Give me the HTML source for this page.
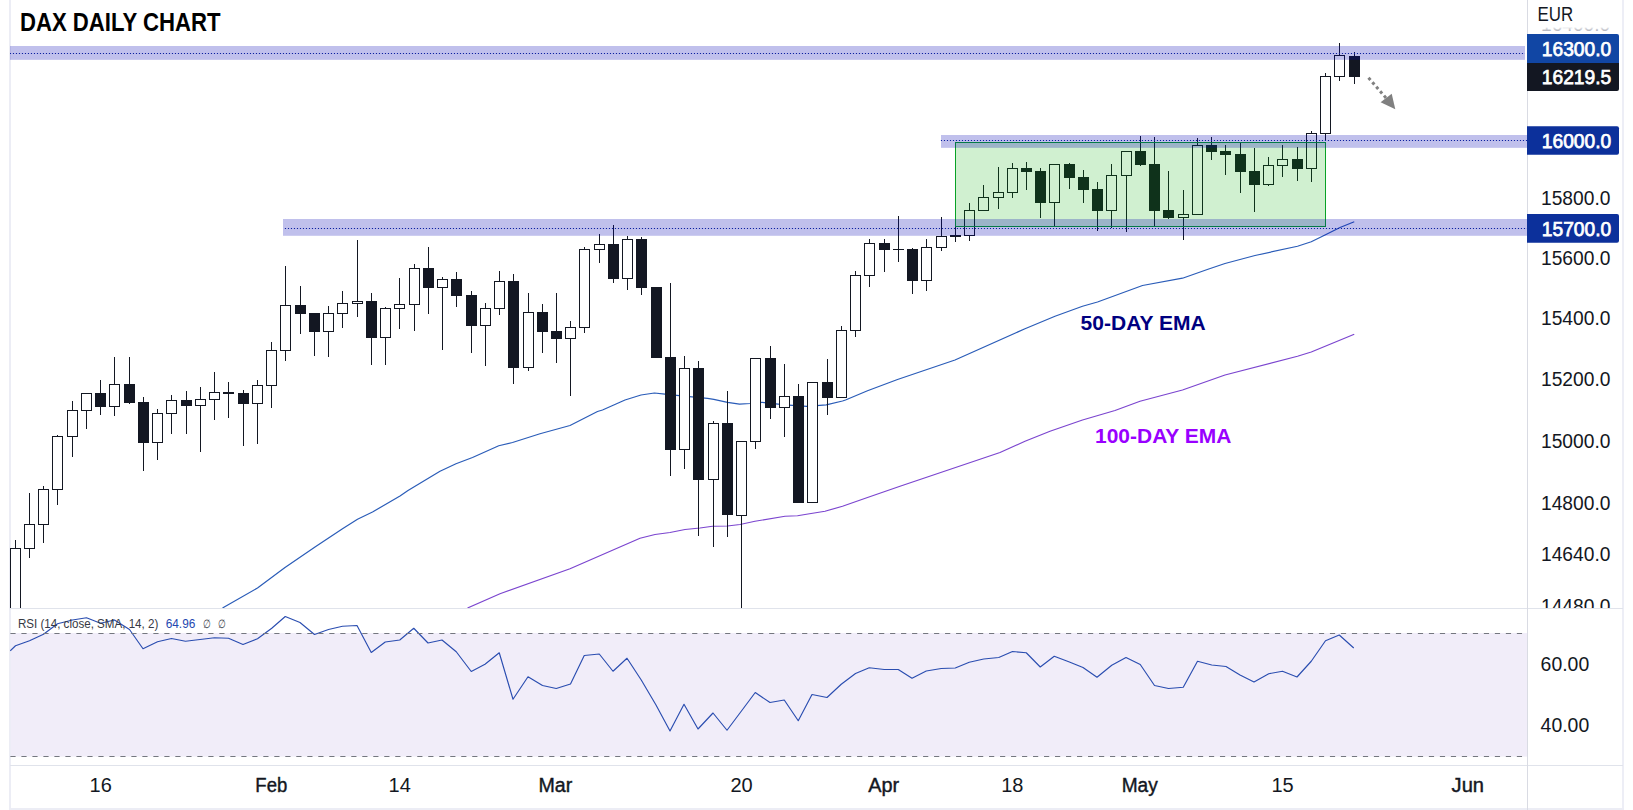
<!DOCTYPE html><html lang="en"><head><meta charset="utf-8"><title>DAX Daily Chart</title><style>html,body{margin:0;padding:0;background:#fff;overflow:hidden}body{width:1633px;height:810px}</style></head><body><svg width="1633" height="810" viewBox="0 0 1633 810" style="display:block">
<defs><clipPath id="main"><rect x="10" y="0" width="1517.5" height="608"/></clipPath><clipPath id="rsi"><rect x="10" y="609" width="1517.5" height="156"/></clipPath><clipPath id="ax"><rect x="1528" y="0" width="94" height="608"/></clipPath><clipPath id="fade"><rect x="1528" y="27.6" width="94" height="5"/></clipPath><linearGradient id="fg" x1="0" y1="0" x2="0" y2="1"><stop offset="0" stop-color="#fff" stop-opacity="1"/><stop offset="1" stop-color="#fff" stop-opacity="0"/></linearGradient></defs>
<rect width="1633" height="810" fill="#fff"/>
<rect x="9" y="0" width="2" height="810" fill="#ecedf5"/>
<rect x="1622.1" y="0" width="1.8" height="810" fill="#ecedf5"/>
<rect x="9" y="808" width="1615" height="2" fill="#ecedf5"/>
<rect x="10.6" y="633" width="1517" height="123.6" fill="#f1edf9"/>
<rect x="10" y="608" width="1613" height="1" fill="#e0e3eb"/>
<rect x="10" y="765" width="1613" height="1" fill="#e0e3eb"/>
<rect x="1527" y="0" width="1" height="810" fill="#d9dbe3"/>
<g clip-path="url(#main)">
<polyline points="222.50,608.00 257.50,588.00 285.00,567.50 315.00,547.00 342.50,528.75 357.50,519.25 372.50,512.00 400.00,496.00 408.00,490.50 440.00,471.25 456.00,463.75 472.50,457.50 498.75,445.75 512.50,442.50 540.00,433.75 570.00,425.50 597.50,411.50 602.50,410.00 625.00,400.00 641.00,395.00 654.40,393.00 665.00,394.20 681.70,395.80 707.50,398.40 713.80,399.40 727.50,402.30 739.50,404.20 750.00,403.50 762.00,402.30 785.00,404.80 807.00,406.40 826.20,404.80 842.50,401.00 845.50,400.00 867.50,390.80 897.50,379.50 955.00,360.00 1025.00,328.75 1055.00,316.25 1082.50,306.25 1097.50,302.00 1142.50,285.50 1182.50,278.20 1208.00,269.25 1225.00,263.50 1255.00,255.50 1297.50,246.25 1311.25,241.75 1325.00,235.00 1340.00,227.50 1354.25,221.75" fill="none" stroke="#2a5cb8" stroke-width="1.2" stroke-linejoin="round"/>
<polyline points="467.50,608.00 500.00,593.75 570.00,568.75 640.00,538.25 655.00,534.50 670.00,532.50 685.00,529.50 700.00,528.00 712.50,526.25 727.50,526.00 740.00,524.50 755.00,521.25 785.00,516.25 797.50,515.75 808.00,514.00 825.00,511.25 842.50,506.25 867.50,497.50 900.00,486.25 1000.00,452.50 1025.00,441.25 1050.00,431.25 1082.50,420.00 1115.00,410.50 1140.00,401.25 1182.50,390.00 1225.00,375.00 1297.50,356.25 1311.25,352.00 1354.25,334.25" fill="none" stroke="#7b45cf" stroke-width="1.2" stroke-linejoin="round"/>
<g shape-rendering="crispEdges">
<rect x="15.0" y="540" width="1" height="8" fill="#131722"/>
<rect x="10.5" y="548.5" width="10" height="71" fill="#fff" stroke="#131722" stroke-width="1"/>
<rect x="29.0" y="493" width="1" height="31" fill="#131722"/>
<rect x="29.0" y="549" width="1" height="9" fill="#131722"/>
<rect x="24.5" y="524.5" width="10" height="24" fill="#fff" stroke="#131722" stroke-width="1"/>
<rect x="43.0" y="486" width="1" height="3" fill="#131722"/>
<rect x="43.0" y="525" width="1" height="18" fill="#131722"/>
<rect x="38.5" y="489.5" width="10" height="35" fill="#fff" stroke="#131722" stroke-width="1"/>
<rect x="57.0" y="435" width="1" height="1" fill="#131722"/>
<rect x="57.0" y="490" width="1" height="15" fill="#131722"/>
<rect x="52.5" y="436.5" width="10" height="53" fill="#fff" stroke="#131722" stroke-width="1"/>
<rect x="72.0" y="401" width="1" height="9" fill="#131722"/>
<rect x="72.0" y="437" width="1" height="20" fill="#131722"/>
<rect x="67.5" y="410.5" width="10" height="26" fill="#fff" stroke="#131722" stroke-width="1"/>
<rect x="86.0" y="411" width="1" height="18" fill="#131722"/>
<rect x="81.5" y="393.5" width="10" height="17" fill="#fff" stroke="#131722" stroke-width="1"/>
<rect x="100.0" y="380" width="1" height="35" fill="#131722"/>
<rect x="95.0" y="393" width="11" height="14" fill="#131722"/>
<rect x="114.0" y="357" width="1" height="27" fill="#131722"/>
<rect x="114.0" y="407" width="1" height="9" fill="#131722"/>
<rect x="109.5" y="384.5" width="10" height="22" fill="#fff" stroke="#131722" stroke-width="1"/>
<rect x="129.0" y="357" width="1" height="47" fill="#131722"/>
<rect x="124.0" y="384" width="11" height="19" fill="#131722"/>
<rect x="143.0" y="397" width="1" height="74" fill="#131722"/>
<rect x="138.0" y="402" width="11" height="41" fill="#131722"/>
<rect x="157.0" y="409" width="1" height="4" fill="#131722"/>
<rect x="157.0" y="443" width="1" height="17" fill="#131722"/>
<rect x="152.5" y="413.5" width="10" height="29" fill="#fff" stroke="#131722" stroke-width="1"/>
<rect x="171.0" y="395" width="1" height="5" fill="#131722"/>
<rect x="171.0" y="414" width="1" height="20" fill="#131722"/>
<rect x="166.5" y="400.5" width="10" height="13" fill="#fff" stroke="#131722" stroke-width="1"/>
<rect x="186.0" y="391" width="1" height="43" fill="#131722"/>
<rect x="181.0" y="400" width="11" height="6" fill="#131722"/>
<rect x="200.0" y="387" width="1" height="12" fill="#131722"/>
<rect x="200.0" y="406" width="1" height="46" fill="#131722"/>
<rect x="195.5" y="399.5" width="10" height="6" fill="#fff" stroke="#131722" stroke-width="1"/>
<rect x="214.0" y="372" width="1" height="20" fill="#131722"/>
<rect x="214.0" y="400" width="1" height="20" fill="#131722"/>
<rect x="209.5" y="392.5" width="10" height="7" fill="#fff" stroke="#131722" stroke-width="1"/>
<rect x="228.0" y="382" width="1" height="36" fill="#131722"/>
<rect x="223.0" y="392.0" width="11" height="2.0" fill="#131722"/>
<rect x="243.0" y="390" width="1" height="56" fill="#131722"/>
<rect x="238.0" y="393" width="11" height="11" fill="#131722"/>
<rect x="257.0" y="380" width="1" height="5" fill="#131722"/>
<rect x="257.0" y="404" width="1" height="40" fill="#131722"/>
<rect x="252.5" y="385.5" width="10" height="18" fill="#fff" stroke="#131722" stroke-width="1"/>
<rect x="271.0" y="342" width="1" height="8" fill="#131722"/>
<rect x="271.0" y="386" width="1" height="22" fill="#131722"/>
<rect x="266.5" y="350.5" width="10" height="35" fill="#fff" stroke="#131722" stroke-width="1"/>
<rect x="285.0" y="266" width="1" height="39" fill="#131722"/>
<rect x="285.0" y="351" width="1" height="10" fill="#131722"/>
<rect x="280.5" y="305.5" width="10" height="45" fill="#fff" stroke="#131722" stroke-width="1"/>
<rect x="300.0" y="286" width="1" height="48" fill="#131722"/>
<rect x="295.0" y="305" width="11" height="9" fill="#131722"/>
<rect x="314.0" y="313" width="1" height="43" fill="#131722"/>
<rect x="309.0" y="313" width="11" height="19" fill="#131722"/>
<rect x="328.0" y="306" width="1" height="7" fill="#131722"/>
<rect x="328.0" y="332" width="1" height="25" fill="#131722"/>
<rect x="323.5" y="313.5" width="10" height="18" fill="#fff" stroke="#131722" stroke-width="1"/>
<rect x="342.0" y="291" width="1" height="12" fill="#131722"/>
<rect x="342.0" y="314" width="1" height="14" fill="#131722"/>
<rect x="337.5" y="303.5" width="10" height="10" fill="#fff" stroke="#131722" stroke-width="1"/>
<rect x="357.0" y="240" width="1" height="61" fill="#131722"/>
<rect x="357.0" y="304" width="1" height="13" fill="#131722"/>
<rect x="352.5" y="301.5" width="10" height="2" fill="#fff" stroke="#131722" stroke-width="1"/>
<rect x="371.0" y="293" width="1" height="72" fill="#131722"/>
<rect x="366.0" y="301" width="11" height="37" fill="#131722"/>
<rect x="385.0" y="307" width="1" height="1" fill="#131722"/>
<rect x="385.0" y="338" width="1" height="27" fill="#131722"/>
<rect x="380.5" y="308.5" width="10" height="29" fill="#fff" stroke="#131722" stroke-width="1"/>
<rect x="399.0" y="278" width="1" height="26" fill="#131722"/>
<rect x="399.0" y="309" width="1" height="20" fill="#131722"/>
<rect x="394.5" y="304.5" width="10" height="4" fill="#fff" stroke="#131722" stroke-width="1"/>
<rect x="414.0" y="264" width="1" height="4" fill="#131722"/>
<rect x="414.0" y="305" width="1" height="26" fill="#131722"/>
<rect x="409.5" y="268.5" width="10" height="36" fill="#fff" stroke="#131722" stroke-width="1"/>
<rect x="428.0" y="247" width="1" height="67" fill="#131722"/>
<rect x="423.0" y="268" width="11" height="20" fill="#131722"/>
<rect x="442.0" y="277" width="1" height="2" fill="#131722"/>
<rect x="442.0" y="288" width="1" height="62" fill="#131722"/>
<rect x="437.5" y="279.5" width="10" height="8" fill="#fff" stroke="#131722" stroke-width="1"/>
<rect x="456.0" y="272" width="1" height="35" fill="#131722"/>
<rect x="451.0" y="279" width="11" height="17" fill="#131722"/>
<rect x="471.0" y="291" width="1" height="62" fill="#131722"/>
<rect x="466.0" y="295" width="11" height="31" fill="#131722"/>
<rect x="485.0" y="303" width="1" height="5" fill="#131722"/>
<rect x="485.0" y="326" width="1" height="40" fill="#131722"/>
<rect x="480.5" y="308.5" width="10" height="17" fill="#fff" stroke="#131722" stroke-width="1"/>
<rect x="499.0" y="271" width="1" height="10" fill="#131722"/>
<rect x="499.0" y="309" width="1" height="6" fill="#131722"/>
<rect x="494.5" y="281.5" width="10" height="27" fill="#fff" stroke="#131722" stroke-width="1"/>
<rect x="513.0" y="274" width="1" height="110" fill="#131722"/>
<rect x="508.0" y="281" width="11" height="87" fill="#131722"/>
<rect x="528.0" y="293" width="1" height="19" fill="#131722"/>
<rect x="528.0" y="368" width="1" height="3" fill="#131722"/>
<rect x="523.5" y="312.5" width="10" height="55" fill="#fff" stroke="#131722" stroke-width="1"/>
<rect x="542.0" y="304" width="1" height="49" fill="#131722"/>
<rect x="537.0" y="312" width="11" height="20" fill="#131722"/>
<rect x="556.0" y="293" width="1" height="70" fill="#131722"/>
<rect x="551.0" y="331" width="11" height="8" fill="#131722"/>
<rect x="570.0" y="321" width="1" height="6" fill="#131722"/>
<rect x="570.0" y="339" width="1" height="57" fill="#131722"/>
<rect x="565.5" y="327.5" width="10" height="11" fill="#fff" stroke="#131722" stroke-width="1"/>
<rect x="584.0" y="247" width="1" height="2" fill="#131722"/>
<rect x="584.0" y="328" width="1" height="5" fill="#131722"/>
<rect x="579.5" y="249.5" width="10" height="78" fill="#fff" stroke="#131722" stroke-width="1"/>
<rect x="599.0" y="234" width="1" height="10" fill="#131722"/>
<rect x="599.0" y="250" width="1" height="13" fill="#131722"/>
<rect x="594.5" y="244.5" width="10" height="5" fill="#fff" stroke="#131722" stroke-width="1"/>
<rect x="613.0" y="225" width="1" height="58" fill="#131722"/>
<rect x="608.0" y="244" width="11" height="35" fill="#131722"/>
<rect x="627.0" y="236" width="1" height="3" fill="#131722"/>
<rect x="627.0" y="279" width="1" height="11" fill="#131722"/>
<rect x="622.5" y="239.5" width="10" height="39" fill="#fff" stroke="#131722" stroke-width="1"/>
<rect x="641.0" y="237" width="1" height="58" fill="#131722"/>
<rect x="636.0" y="239" width="11" height="49" fill="#131722"/>
<rect x="656.0" y="287" width="1" height="71" fill="#131722"/>
<rect x="651.0" y="287" width="11" height="71" fill="#131722"/>
<rect x="670.0" y="283" width="1" height="193" fill="#131722"/>
<rect x="665.0" y="357" width="11" height="93" fill="#131722"/>
<rect x="684.0" y="356" width="1" height="12" fill="#131722"/>
<rect x="684.0" y="450" width="1" height="19" fill="#131722"/>
<rect x="679.5" y="368.5" width="10" height="81" fill="#fff" stroke="#131722" stroke-width="1"/>
<rect x="698.0" y="361" width="1" height="175" fill="#131722"/>
<rect x="693.0" y="368" width="11" height="112" fill="#131722"/>
<rect x="713.0" y="421" width="1" height="2" fill="#131722"/>
<rect x="713.0" y="480" width="1" height="67" fill="#131722"/>
<rect x="708.5" y="423.5" width="10" height="56" fill="#fff" stroke="#131722" stroke-width="1"/>
<rect x="727.0" y="391" width="1" height="146" fill="#131722"/>
<rect x="722.0" y="423" width="11" height="92" fill="#131722"/>
<rect x="741.0" y="516" width="1" height="104" fill="#131722"/>
<rect x="736.5" y="441.5" width="10" height="74" fill="#fff" stroke="#131722" stroke-width="1"/>
<rect x="755.0" y="442" width="1" height="7" fill="#131722"/>
<rect x="750.5" y="358.5" width="10" height="83" fill="#fff" stroke="#131722" stroke-width="1"/>
<rect x="770.0" y="346" width="1" height="73" fill="#131722"/>
<rect x="765.0" y="358" width="11" height="50" fill="#131722"/>
<rect x="784.0" y="364" width="1" height="32" fill="#131722"/>
<rect x="784.0" y="408" width="1" height="29" fill="#131722"/>
<rect x="779.5" y="396.5" width="10" height="11" fill="#fff" stroke="#131722" stroke-width="1"/>
<rect x="798.0" y="384" width="1" height="119" fill="#131722"/>
<rect x="793.0" y="396" width="11" height="107" fill="#131722"/>
<rect x="807.5" y="382.5" width="10" height="120" fill="#fff" stroke="#131722" stroke-width="1"/>
<rect x="827.0" y="359" width="1" height="56" fill="#131722"/>
<rect x="822.0" y="382" width="11" height="16" fill="#131722"/>
<rect x="841.0" y="326" width="1" height="4" fill="#131722"/>
<rect x="836.5" y="330.5" width="10" height="67" fill="#fff" stroke="#131722" stroke-width="1"/>
<rect x="855.0" y="271" width="1" height="4" fill="#131722"/>
<rect x="855.0" y="331" width="1" height="6" fill="#131722"/>
<rect x="850.5" y="275.5" width="10" height="55" fill="#fff" stroke="#131722" stroke-width="1"/>
<rect x="869.0" y="239" width="1" height="4" fill="#131722"/>
<rect x="869.0" y="276" width="1" height="11" fill="#131722"/>
<rect x="864.5" y="243.5" width="10" height="32" fill="#fff" stroke="#131722" stroke-width="1"/>
<rect x="884.0" y="239" width="1" height="33" fill="#131722"/>
<rect x="879.0" y="243" width="11" height="7" fill="#131722"/>
<rect x="898.0" y="216" width="1" height="46" fill="#131722"/>
<rect x="893.0" y="249.0" width="11" height="1.0" fill="#131722"/>
<rect x="912.0" y="248" width="1" height="46" fill="#131722"/>
<rect x="907.0" y="249" width="11" height="32" fill="#131722"/>
<rect x="926.0" y="239" width="1" height="8" fill="#131722"/>
<rect x="926.0" y="281" width="1" height="10" fill="#131722"/>
<rect x="921.5" y="247.5" width="10" height="33" fill="#fff" stroke="#131722" stroke-width="1"/>
<rect x="941.0" y="217" width="1" height="19" fill="#131722"/>
<rect x="941.0" y="248" width="1" height="3" fill="#131722"/>
<rect x="936.5" y="236.5" width="10" height="11" fill="#fff" stroke="#131722" stroke-width="1"/>
<rect x="955.0" y="227" width="1" height="15" fill="#131722"/>
<rect x="950.0" y="235.0" width="11" height="2.0" fill="#131722"/>
<rect x="969.0" y="203" width="1" height="7" fill="#131722"/>
<rect x="969.0" y="236" width="1" height="5" fill="#131722"/>
<rect x="964.5" y="210.5" width="10" height="25" fill="#fff" stroke="#131722" stroke-width="1"/>
<rect x="983.0" y="185" width="1" height="12" fill="#131722"/>
<rect x="978.5" y="197.5" width="10" height="13" fill="#fff" stroke="#131722" stroke-width="1"/>
<rect x="998.0" y="167" width="1" height="25" fill="#131722"/>
<rect x="998.0" y="198" width="1" height="11" fill="#131722"/>
<rect x="993.5" y="192.5" width="10" height="5" fill="#fff" stroke="#131722" stroke-width="1"/>
<rect x="1012.0" y="163" width="1" height="5" fill="#131722"/>
<rect x="1012.0" y="193" width="1" height="5" fill="#131722"/>
<rect x="1007.5" y="168.5" width="10" height="24" fill="#fff" stroke="#131722" stroke-width="1"/>
<rect x="1026.0" y="162" width="1" height="28" fill="#131722"/>
<rect x="1021.0" y="168" width="11" height="4" fill="#131722"/>
<rect x="1040.0" y="168" width="1" height="50" fill="#131722"/>
<rect x="1035.0" y="171" width="11" height="32" fill="#131722"/>
<rect x="1054.0" y="203" width="1" height="23" fill="#131722"/>
<rect x="1049.5" y="164.5" width="10" height="38" fill="#fff" stroke="#131722" stroke-width="1"/>
<rect x="1069.0" y="163" width="1" height="26" fill="#131722"/>
<rect x="1064.0" y="164" width="11" height="14" fill="#131722"/>
<rect x="1083.0" y="170" width="1" height="33" fill="#131722"/>
<rect x="1078.0" y="177" width="11" height="13" fill="#131722"/>
<rect x="1097.0" y="182" width="1" height="49" fill="#131722"/>
<rect x="1092.0" y="189" width="11" height="22" fill="#131722"/>
<rect x="1111.0" y="164" width="1" height="11" fill="#131722"/>
<rect x="1111.0" y="211" width="1" height="17" fill="#131722"/>
<rect x="1106.5" y="175.5" width="10" height="35" fill="#fff" stroke="#131722" stroke-width="1"/>
<rect x="1126.0" y="176" width="1" height="56" fill="#131722"/>
<rect x="1121.5" y="151.5" width="10" height="24" fill="#fff" stroke="#131722" stroke-width="1"/>
<rect x="1140.0" y="136" width="1" height="30" fill="#131722"/>
<rect x="1135.0" y="151" width="11" height="14" fill="#131722"/>
<rect x="1154.0" y="137" width="1" height="89" fill="#131722"/>
<rect x="1149.0" y="164" width="11" height="47" fill="#131722"/>
<rect x="1168.0" y="171" width="1" height="48" fill="#131722"/>
<rect x="1163.0" y="210" width="11" height="8" fill="#131722"/>
<rect x="1183.0" y="190" width="1" height="24" fill="#131722"/>
<rect x="1183.0" y="218" width="1" height="22" fill="#131722"/>
<rect x="1178.5" y="214.5" width="10" height="3" fill="#fff" stroke="#131722" stroke-width="1"/>
<rect x="1197.0" y="138" width="1" height="7" fill="#131722"/>
<rect x="1192.5" y="145.5" width="10" height="69" fill="#fff" stroke="#131722" stroke-width="1"/>
<rect x="1211.0" y="137" width="1" height="23" fill="#131722"/>
<rect x="1206.0" y="145" width="11" height="7" fill="#131722"/>
<rect x="1225.0" y="145" width="1" height="30" fill="#131722"/>
<rect x="1220.0" y="151" width="11" height="4" fill="#131722"/>
<rect x="1240.0" y="142" width="1" height="51" fill="#131722"/>
<rect x="1235.0" y="154" width="11" height="18" fill="#131722"/>
<rect x="1254.0" y="148" width="1" height="64" fill="#131722"/>
<rect x="1249.0" y="171" width="11" height="14" fill="#131722"/>
<rect x="1268.0" y="157" width="1" height="8" fill="#131722"/>
<rect x="1268.0" y="185" width="1" height="1" fill="#131722"/>
<rect x="1263.5" y="165.5" width="10" height="19" fill="#fff" stroke="#131722" stroke-width="1"/>
<rect x="1282.0" y="145" width="1" height="14" fill="#131722"/>
<rect x="1282.0" y="166" width="1" height="11" fill="#131722"/>
<rect x="1277.5" y="159.5" width="10" height="6" fill="#fff" stroke="#131722" stroke-width="1"/>
<rect x="1297.0" y="147" width="1" height="34" fill="#131722"/>
<rect x="1292.0" y="159" width="11" height="10" fill="#131722"/>
<rect x="1311.0" y="131" width="1" height="2" fill="#131722"/>
<rect x="1311.0" y="169" width="1" height="13" fill="#131722"/>
<rect x="1306.5" y="133.5" width="10" height="35" fill="#fff" stroke="#131722" stroke-width="1"/>
<rect x="1325.0" y="73" width="1" height="3" fill="#131722"/>
<rect x="1325.0" y="134" width="1" height="7" fill="#131722"/>
<rect x="1320.5" y="76.5" width="10" height="57" fill="#fff" stroke="#131722" stroke-width="1"/>
<rect x="1339.0" y="43" width="1" height="12" fill="#131722"/>
<rect x="1339.0" y="77" width="1" height="4" fill="#131722"/>
<rect x="1334.5" y="55.5" width="10" height="21" fill="#fff" stroke="#131722" stroke-width="1"/>
<rect x="1354.0" y="52" width="1" height="32" fill="#131722"/>
<rect x="1349.0" y="56" width="11" height="21" fill="#131722"/>
</g>
<rect x="955.5" y="142.5" width="370" height="84" fill="rgba(0,172,0,0.185)" stroke="#08a226" stroke-width="1" shape-rendering="crispEdges"/>
<rect x="10" y="46" width="1515" height="13.850000000000001" fill="rgba(2,2,178,0.247)"/>
<line x1="9.9" y1="53.5" x2="1525" y2="53.5" stroke="#0c20a0" stroke-width="1.15" stroke-dasharray="1.15 1.85"/>
<rect x="941" y="135" width="586" height="12.849999999999994" fill="rgba(2,2,178,0.247)"/>
<line x1="940.9" y1="140.5" x2="1527" y2="140.5" stroke="#0c20a0" stroke-width="1.15" stroke-dasharray="1.15 1.85"/>
<rect x="283" y="219" width="1244" height="16.80000000000001" fill="rgba(2,2,178,0.247)"/>
<line x1="284.9" y1="228.5" x2="1527" y2="228.5" stroke="#0c20a0" stroke-width="1.15" stroke-dasharray="1.15 1.85"/>
<line x1="1368.5" y1="77.7" x2="1386.6" y2="98.6" stroke="#808080" stroke-width="3" stroke-dasharray="3 2.93"/>
<polygon points="1380.6,102.3 1391.7,93.8 1395.3,109.2" fill="#808080"/>
</g>
<g clip-path="url(#rsi)">
<polyline points="10.25,650.75 15.50,645.75 29.50,640.75 43.50,634.25 57.50,623.75 72.50,620.00 86.50,617.75 100.50,623.25 114.50,620.00 129.50,629.50 143.00,648.75 157.50,641.75 171.50,638.50 185.50,641.25 200.00,639.50 214.50,637.75 228.50,638.25 243.00,644.50 257.50,638.75 271.75,628.25 285.25,616.50 300.00,622.50 314.50,634.50 328.50,629.50 342.50,626.25 357.00,625.50 371.25,652.50 385.25,642.00 399.75,640.00 413.75,628.25 428.00,643.00 442.00,640.00 456.25,651.75 471.25,671.50 485.00,664.25 499.25,652.75 513.00,699.25 528.00,676.75 542.50,685.50 556.25,688.50 570.50,684.00 584.25,655.50 599.25,654.00 613.00,671.25 627.00,658.25 641.25,680.00 656.00,705.00 670.00,731.00 684.00,704.25 698.00,729.00 713.00,713.00 727.00,730.25 741.25,711.25 755.25,692.50 770.00,702.50 784.25,700.00 798.25,720.75 812.00,694.50 827.00,697.50 841.25,684.25 855.50,673.50 869.25,667.75 884.25,669.50 898.25,669.50 912.00,678.25 926.25,671.00 941.25,668.50 955.25,668.00 969.25,662.25 983.75,659.00 998.75,657.50 1012.50,651.50 1026.25,652.75 1040.25,667.00 1054.25,656.25 1068.75,661.75 1083.00,667.50 1097.00,677.25 1111.75,665.25 1126.00,657.50 1140.25,664.50 1154.50,685.50 1168.50,688.50 1183.25,687.25 1197.50,661.25 1211.75,665.00 1226.00,666.50 1240.00,675.00 1254.00,682.00 1268.75,673.75 1282.50,671.25 1297.00,677.00 1311.25,661.25 1325.50,640.75 1339.25,635.00 1353.75,648.00" fill="none" stroke="#2a4db0" stroke-width="1.15" stroke-linejoin="round"/>
</g>
<line x1="10.4" y1="633.5" x2="1527" y2="633.5" stroke="#74777f" stroke-width="1" stroke-dasharray="5.2 5.796"/>
<line x1="10.4" y1="756.5" x2="1527" y2="756.5" stroke="#74777f" stroke-width="1" stroke-dasharray="5.2 5.796"/>
<text x="19.9" y="31" font-family="Liberation Sans, Arial, sans-serif" font-weight="bold" font-size="25.6" fill="#000" textLength="200.6" lengthAdjust="spacingAndGlyphs">DAX DAILY CHART</text>
<text x="1080.6" y="329.6" font-family="Liberation Sans, Arial, sans-serif" font-weight="bold" font-size="20.3" fill="#000080" textLength="125" lengthAdjust="spacingAndGlyphs">50-DAY EMA</text>
<text x="1095" y="443.3" font-family="Liberation Sans, Arial, sans-serif" font-weight="bold" font-size="20.3" fill="#9900ff" textLength="136.4" lengthAdjust="spacingAndGlyphs">100-DAY EMA</text>
<text x="17.9" y="628" font-family="Liberation Sans, Arial, sans-serif" font-size="12.2" fill="#363944" textLength="140.4" lengthAdjust="spacingAndGlyphs">RSI (14, close, SMA, 14, 2)</text>
<text x="165.7" y="628" font-family="Liberation Sans, Arial, sans-serif" font-size="12.2" fill="#2347b0" textLength="29.6" lengthAdjust="spacingAndGlyphs">64.96</text>
<text x="203.4" y="628" font-family="Liberation Sans, Arial, sans-serif" font-size="12" fill="#3a3d48" textLength="7.4" lengthAdjust="spacingAndGlyphs">∅</text>
<text x="218.2" y="628" font-family="Liberation Sans, Arial, sans-serif" font-size="12" fill="#3a3d48" textLength="7.4" lengthAdjust="spacingAndGlyphs">∅</text>
<g clip-path="url(#ax)">
<text x="1541" y="31.2" font-family="Liberation Sans, Arial, sans-serif" font-size="20" fill="#b9bbc3" textLength="69.2" lengthAdjust="spacingAndGlyphs" clip-path="url(#fade)">16400.0</text>
<rect x="1528" y="26" width="94" height="4.5" fill="url(#fg)"/>
<text x="1537.6" y="21" font-family="Liberation Sans, Arial, sans-serif" font-size="19.6" fill="#131722" textLength="35.6" lengthAdjust="spacingAndGlyphs">EUR</text>
<text x="1541" y="204.9" font-family="Liberation Sans, Arial, sans-serif" font-size="20" fill="#131722" textLength="69.4" lengthAdjust="spacingAndGlyphs">15800.0</text>
<text x="1541" y="265.29999999999995" font-family="Liberation Sans, Arial, sans-serif" font-size="20" fill="#131722" textLength="69.4" lengthAdjust="spacingAndGlyphs">15600.0</text>
<text x="1541" y="325.4" font-family="Liberation Sans, Arial, sans-serif" font-size="20" fill="#131722" textLength="69.4" lengthAdjust="spacingAndGlyphs">15400.0</text>
<text x="1541" y="386.29999999999995" font-family="Liberation Sans, Arial, sans-serif" font-size="20" fill="#131722" textLength="69.4" lengthAdjust="spacingAndGlyphs">15200.0</text>
<text x="1541" y="448.29999999999995" font-family="Liberation Sans, Arial, sans-serif" font-size="20" fill="#131722" textLength="69.4" lengthAdjust="spacingAndGlyphs">15000.0</text>
<text x="1541" y="510.29999999999995" font-family="Liberation Sans, Arial, sans-serif" font-size="20" fill="#131722" textLength="69.4" lengthAdjust="spacingAndGlyphs">14800.0</text>
<text x="1541" y="561.1" font-family="Liberation Sans, Arial, sans-serif" font-size="20" fill="#131722" textLength="69.4" lengthAdjust="spacingAndGlyphs">14640.0</text>
<text x="1541" y="612.9" font-family="Liberation Sans, Arial, sans-serif" font-size="20" fill="#131722" textLength="69.4" lengthAdjust="spacingAndGlyphs">14480.0</text>
</g>
<path d="M1527 62.6H1618.99a0.01 0.01 0 0 1 0.01 0.01V89a2 2 0 0 1 -2 2H1527Z" fill="#131722"/>
<text x="1541.8" y="83.80" font-family="Liberation Sans, Arial, sans-serif" font-size="20.5" fill="#fff" stroke="#fff" stroke-width="0.75" textLength="69.4" lengthAdjust="spacingAndGlyphs">16219.5</text>
<path d="M1527 34H1617a2 2 0 0 1 2 2V62.99a0.01 0.01 0 0 1 -0.01 0.01H1527Z" fill="#1146a4"/>
<text x="1541.8" y="55.50" font-family="Liberation Sans, Arial, sans-serif" font-size="20.5" fill="#fff" stroke="#fff" stroke-width="0.75" textLength="69.4" lengthAdjust="spacingAndGlyphs">16300.0</text>
<path d="M1527 126.2H1617a2 2 0 0 1 2 2V152.7a2 2 0 0 1 -2 2H1527Z" fill="#0c309b"/>
<text x="1541.8" y="147.75" font-family="Liberation Sans, Arial, sans-serif" font-size="20.5" fill="#fff" stroke="#fff" stroke-width="0.75" textLength="69.4" lengthAdjust="spacingAndGlyphs">16000.0</text>
<path d="M1527 214.1H1617a2 2 0 0 1 2 2V240.85a2 2 0 0 1 -2 2H1527Z" fill="#0c309b"/>
<text x="1541.8" y="235.88" font-family="Liberation Sans, Arial, sans-serif" font-size="20.5" fill="#fff" stroke="#fff" stroke-width="0.75" textLength="69.4" lengthAdjust="spacingAndGlyphs">15700.0</text>
<text x="1540.6" y="671.2" font-family="Liberation Sans, Arial, sans-serif" font-size="20" fill="#131722" textLength="48.6" lengthAdjust="spacingAndGlyphs">60.00</text>
<text x="1540.6" y="731.7" font-family="Liberation Sans, Arial, sans-serif" font-size="20" fill="#131722" textLength="48.6" lengthAdjust="spacingAndGlyphs">40.00</text>
<text x="100.7" y="791.8" font-family="Liberation Sans, Arial, sans-serif" font-size="20" fill="#131722" text-anchor="middle">16</text>
<text x="255.35" y="791.6" font-family="Liberation Sans, Arial, sans-serif" font-size="19.4" fill="#131722" stroke="#131722" stroke-width="0.4" textLength="31.9" lengthAdjust="spacingAndGlyphs">Feb</text>
<text x="399.7" y="791.8" font-family="Liberation Sans, Arial, sans-serif" font-size="20" fill="#131722" text-anchor="middle">14</text>
<text x="538.50" y="791.6" font-family="Liberation Sans, Arial, sans-serif" font-size="19.4" fill="#131722" stroke="#131722" stroke-width="0.4" textLength="33.8" lengthAdjust="spacingAndGlyphs">Mar</text>
<text x="741.5" y="791.8" font-family="Liberation Sans, Arial, sans-serif" font-size="20" fill="#131722" text-anchor="middle">20</text>
<text x="868.35" y="791.6" font-family="Liberation Sans, Arial, sans-serif" font-size="19.4" fill="#131722" stroke="#131722" stroke-width="0.4" textLength="30.9" lengthAdjust="spacingAndGlyphs">Apr</text>
<text x="1012.3" y="791.8" font-family="Liberation Sans, Arial, sans-serif" font-size="20" fill="#131722" text-anchor="middle">18</text>
<text x="1121.65" y="791.6" font-family="Liberation Sans, Arial, sans-serif" font-size="19.4" fill="#131722" stroke="#131722" stroke-width="0.4" textLength="36.1" lengthAdjust="spacingAndGlyphs">May</text>
<text x="1282.6" y="791.8" font-family="Liberation Sans, Arial, sans-serif" font-size="20" fill="#131722" text-anchor="middle">15</text>
<text x="1451.60" y="791.6" font-family="Liberation Sans, Arial, sans-serif" font-size="19.4" fill="#131722" stroke="#131722" stroke-width="0.4" textLength="32.4" lengthAdjust="spacingAndGlyphs">Jun</text>
</svg></body></html>
